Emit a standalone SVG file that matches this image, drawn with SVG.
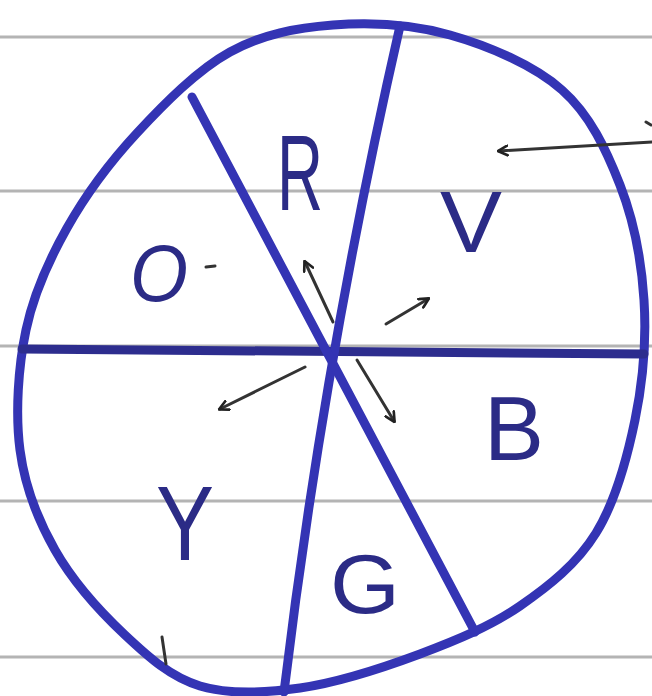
<svg xmlns="http://www.w3.org/2000/svg" width="652" height="696" viewBox="0 0 652 696">
<style>
.paper{stroke:#b4b4b4;stroke-width:3;fill:none}
.ink{stroke:#3434b4;stroke-width:9;fill:none;stroke-linecap:round;stroke-linejoin:round}
.ink2{stroke:#2d2d8e;stroke-width:9;fill:none;stroke-linecap:round}
.pen{stroke:#333;stroke-width:3;fill:none;stroke-linecap:round}
.lbl{font-family:"Liberation Sans",Arial,sans-serif;fill:#2b2b86}
</style>
<defs>
<marker id="ah" viewBox="0 0 10 10" refX="8" refY="5" markerWidth="4" markerHeight="4" orient="auto" markerUnits="strokeWidth">
<path d="M1,1 L9,5 L1,9" fill="none" stroke="#222" stroke-width="2.2" stroke-linecap="round" stroke-linejoin="round"/>
</marker>
</defs>
<rect width="652" height="696" fill="#ffffff"/>
<g id="paper-lines">
<line class="paper" x1="0" y1="37" x2="652" y2="37"/>
<line class="paper" x1="0" y1="191" x2="652" y2="191"/>
<line class="paper" x1="0" y1="346" x2="652" y2="346"/>
<line class="paper" x1="0" y1="501" x2="652" y2="501"/>
<line class="paper" x1="0" y1="657" x2="652" y2="657"/>
</g>
<g id="wheel">
<path class="ink" d="M333,25 C369.7,22.2 411.8,24.2 450,35 C488.2,45.8 533.7,65 562,90 C590.3,115 606.3,150 620,185 C633.7,220 641.5,260.8 644,300 C646.5,339.2 643,381.2 635,420 C627,458.8 615.2,502 596,533 C576.8,564 549.3,585.8 520,606 C490.7,626.2 456.7,640.3 420,654 C383.3,667.7 336.7,682.7 300,688 C263.3,693.3 229.2,694.8 200,686 C170.8,677.2 149.2,657.7 125,635 C100.8,612.3 72.5,580.8 55,550 C37.5,519.2 24.8,486.7 20,450 C15.2,413.3 18.2,367 26,330 C33.8,293 48.5,260.8 67,228 C85.5,195.2 109.8,162.3 137,133 C164.2,103.7 197.3,70 230,52 C262.7,34 296.3,27.8 333,25 Z"/>
<line class="ink2" x1="22" y1="349" x2="644" y2="354"/>
<path class="ink" d="M400,26 Q324,359 284,692"/>
<line class="ink" x1="192" y1="97" x2="475" y2="632"/>
<line class="pen" x1="162" y1="637" x2="166" y2="664"/>
</g>
<g id="label-R"><text class="lbl" x="277" y="210" font-size="107" textLength="46" lengthAdjust="spacingAndGlyphs">R</text></g>
<g id="label-V"><text class="lbl" x="440" y="252" font-size="87" textLength="62" lengthAdjust="spacingAndGlyphs">V</text></g>
<g id="label-O"><text class="lbl" x="130" y="301" font-size="80" font-style="italic" textLength="58" lengthAdjust="spacingAndGlyphs">O</text><line class="pen" x1="206" y1="267" x2="215" y2="266"/></g>
<g id="label-B"><text class="lbl" x="484" y="460" font-size="91" textLength="60" lengthAdjust="spacingAndGlyphs">B</text></g>
<g id="label-Y"><text class="lbl" x="156" y="560" font-size="105" textLength="58" lengthAdjust="spacingAndGlyphs">Y</text></g>
<g id="label-G"><text class="lbl" x="330" y="613" font-size="83" textLength="70" lengthAdjust="spacingAndGlyphs">G</text></g>
<g id="connectors">
<line class="pen" x1="333" y1="322" x2="305" y2="262" marker-end="url(#ah)"/>
<line class="pen" x1="386" y1="324" x2="428" y2="299" marker-end="url(#ah)"/>
<line class="pen" x1="305" y1="367" x2="220" y2="409" marker-end="url(#ah)"/>
<line class="pen" x1="357" y1="360" x2="394" y2="421" marker-end="url(#ah)"/>
<line class="pen" x1="652" y1="142" x2="499" y2="151" marker-end="url(#ah)"/>
<line class="pen" x1="646" y1="122" x2="651" y2="125"/>
</g>
</svg>
